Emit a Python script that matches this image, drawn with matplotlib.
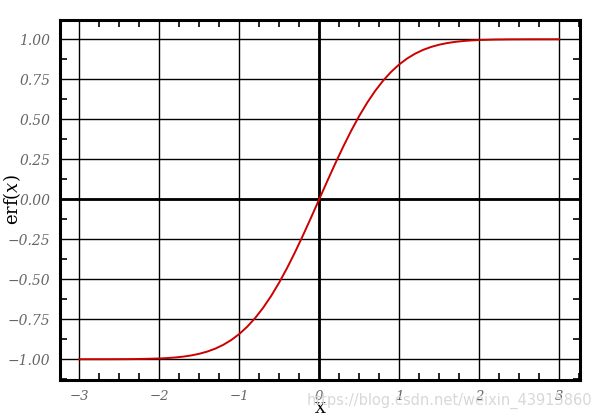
import matplotlib
matplotlib.use("Agg")
import matplotlib.pyplot as plt
from matplotlib.ticker import MultipleLocator, FuncFormatter

x_vals = [-3.0, -2.8, -2.6, -2.4, -2.2, -2.0, -1.9, -1.8, -1.7, -1.6, -1.5, -1.4, -1.3, -1.2, -1.1,
          -1.0, -0.9, -0.8, -0.7, -0.6, -0.5, -0.4, -0.3, -0.2, -0.1, 0.0,
          0.1, 0.2, 0.3, 0.4, 0.5, 0.6, 0.7, 0.8, 0.9, 1.0,
          1.1, 1.2, 1.3, 1.4, 1.5, 1.6, 1.7, 1.8, 1.9, 2.0, 2.2, 2.4, 2.6, 2.8, 3.0]
y_vals = [-1.0000, -0.9999, -0.9998, -0.9993, -0.9981, -0.9953, -0.9928, -0.9891, -0.9838, -0.9763,
          -0.9661, -0.9523, -0.9340, -0.9103, -0.8802,
          -0.8427, -0.7969, -0.7421, -0.6778, -0.6039, -0.5205, -0.4284, -0.3286, -0.2227, -0.1125, 0.0,
          0.1125, 0.2227, 0.3286, 0.4284, 0.5205, 0.6039, 0.6778, 0.7421, 0.7969, 0.8427,
          0.8802, 0.9103, 0.9340, 0.9523, 0.9661, 0.9763, 0.9838, 0.9891, 0.9928, 0.9953,
          0.9981, 0.9993, 0.9998, 0.9999, 1.0000]
x_ticks = [-3, -2, -1, 0, 1, 2, 3]
y_ticks = [-1.00, -0.75, -0.50, -0.25, 0.00, 0.25, 0.50, 0.75, 1.00]

plt.rcParams['font.family'] = ['DejaVu Serif', 'DejaVu Sans']
plt.rcParams['mathtext.fontset'] = 'dejavuserif'

fig = plt.figure(figsize=(6, 4.2), dpi=100)
ax = fig.add_axes([0.1, 0.0952, 0.8667, 0.857])

ax.plot(x_vals, y_vals, color='#cc0000', lw=1.4, zorder=3)
ax.axhline(0, color='black', lw=2.0, zorder=2)
ax.axvline(0, color='black', lw=2.0, zorder=2)

ax.set_xlim(-3.24, 3.26)
ax.set_ylim(-1.13, 1.12)
ax.set_xticks(x_ticks)
ax.set_yticks(y_ticks)
ax.xaxis.set_minor_locator(MultipleLocator(0.25))
ax.yaxis.set_minor_locator(MultipleLocator(0.125))


def num_fmt(decimals):
    def f(v, pos):
        s = f"{abs(v):.{decimals}f}"
        if v < -1e-9:
            return '\u2212' + s
        return s
    return FuncFormatter(f)


ax.xaxis.set_major_formatter(num_fmt(0))
ax.yaxis.set_major_formatter(num_fmt(2))
ax.grid(True, which='major', color='black', lw=1.0, zorder=1)

ax.tick_params(which='major', length=0, labelcolor='#666666')
ax.tick_params(axis='y', which='major', pad=7, labelsize=10)
ax.tick_params(axis='x', which='major', pad=7, labelsize=9.5)
ax.tick_params(which='minor', direction='in', length=5, width=1.2, color='black',
               top=True, right=True, bottom=True, left=True)
for lab in ax.get_xticklabels() + ax.get_yticklabels():
    lab.set_fontstyle('italic')

for sp in ax.spines.values():
    sp.set_linewidth(2.2)
    sp.set_color('black')

ax.set_xlabel('X', fontsize=11)
ax.set_ylabel(r'$\mathrm{erf}(x)$', fontsize=13)
ax.xaxis.set_label_coords(0.5, -0.06)
ax.yaxis.set_label_coords(-0.072, 0.5)

fig.text(0.987, 0.045, 'https://blog.csdn.net/weixin_43915860', ha='right', va='center',
         fontsize=10.5, color='#d8d8d8', family='DejaVu Sans', zorder=0)

fig.savefig('out.png', dpi=100)
